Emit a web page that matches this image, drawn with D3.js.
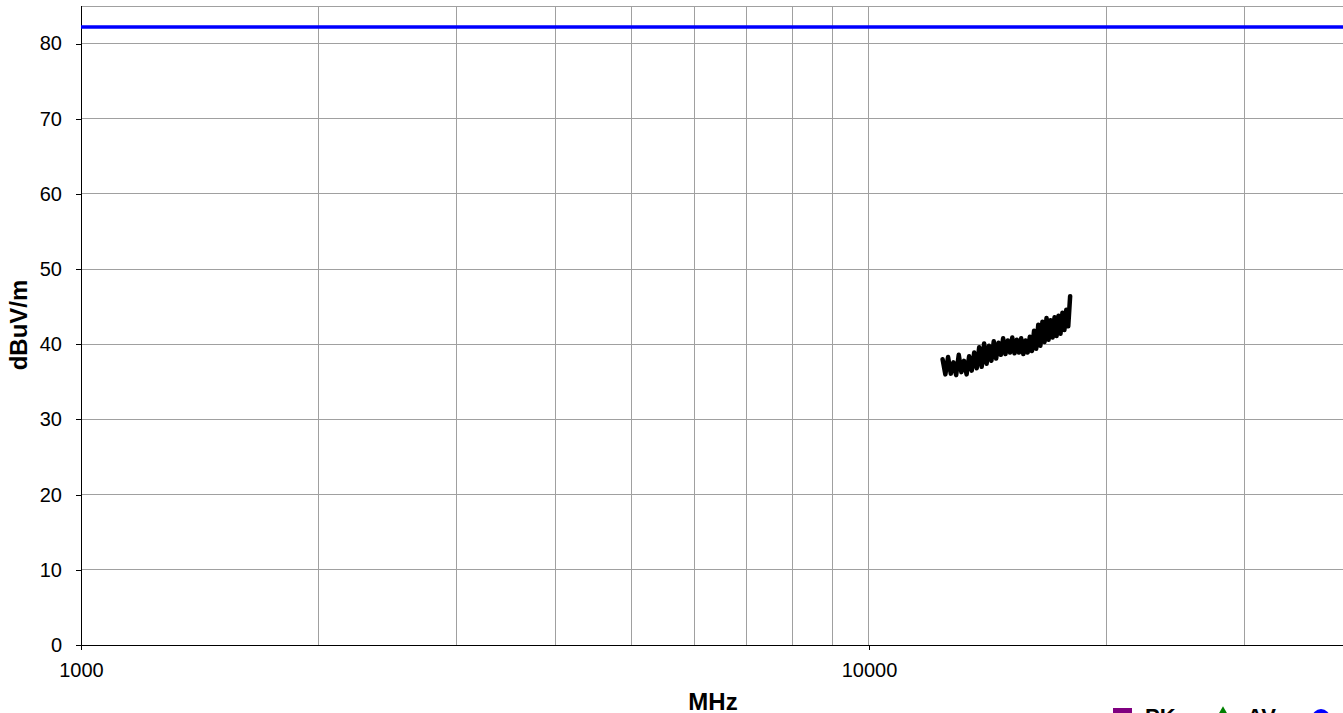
<!DOCTYPE html>
<html>
<head>
<meta charset="utf-8">
<script src="https://cdn.jsdelivr.net/npm/d3@7/dist/d3.min.js"></script>
<style>
  body { margin: 0; background: #fff; overflow: hidden; }
  svg { display: block; font-family: "Liberation Sans", Arial, sans-serif; }
</style>
</head>
<body>
<script>
// Chart data
var xTicks = [1000, 10000];
var xGrid = [2000, 3000, 4000, 5000, 6000, 7000, 8000, 9000, 20000, 30000, 40000];
var yTicks = [0, 10, 20, 30, 40, 50, 60, 70, 80];

// limit line (dBuV/m)
var limitLevel = 82.2;

// measured trace, frequency in MHz and level in dBuV/m
var traceFreq = [12400, 12500, 12600, 12700, 12800, 12900, 13000, 13100, 13200, 13300,
  13400, 13500, 13600, 13700, 13800, 13900, 14000, 14100, 14200, 14300,
  14400, 14500, 14600, 14700, 14800, 14900, 15000, 15100, 15200, 15300,
  15400, 15500, 15600, 15700, 15800, 15900, 16000, 16100, 16200, 16300,
  16400, 16500, 16600, 16700, 16800, 16900, 17000, 17100, 17200, 17300,
  17400, 17500, 17600, 17700, 17800, 17900, 18000];
var traceLevel = [38.0, 36.0, 38.3, 36.1, 37.6, 35.9, 38.6, 36.3, 37.8, 36.0,
  38.4, 36.5, 38.9, 36.8, 39.6, 37.0, 40.1, 37.4, 39.8, 37.8,
  40.4, 38.1, 40.2, 38.6, 40.8, 38.7, 40.5, 38.9, 40.9, 38.8,
  40.6, 38.9, 40.8, 38.7, 40.5, 38.9, 41.0, 39.1, 41.8, 39.4,
  42.6, 39.8, 43.0, 40.3, 43.5, 40.6, 43.2, 40.9, 43.6, 41.1,
  43.8, 41.4, 44.2, 41.9, 44.6, 42.4, 46.4];

var legendItems = ["PK", "AV", ""];
var legendColors = ["#800080", "#008000", "#0000ff"];

var W = 1343, H = 713;
var margin = { top: 6, left: 81, bottom: 68 };

var x = d3.scaleLog().domain([1000, 40000]).range([margin.left, 1343.4]);
var y = d3.scaleLinear().domain([0, 85]).range([H - margin.bottom, margin.top]);

var svg = d3.select("body").append("svg")
  .attr("width", W)
  .attr("height", H);

svg.append("defs").append("clipPath").attr("id", "plot")
  .append("rect")
  .attr("x", margin.left).attr("y", margin.top)
  .attr("width", W - margin.left).attr("height", y(0) - margin.top);

// Grid lines
svg.selectAll(".vgrid").data(xGrid.concat(xTicks)).enter().append("line")
  .attr("x1", function (d) { return x(d); })
  .attr("x2", function (d) { return x(d); })
  .attr("y1", margin.top).attr("y2", y(0))
  .attr("stroke", "#a0a0a0").attr("stroke-width", 1)
  .attr("shape-rendering", "crispEdges");

svg.selectAll(".hgrid").data(yTicks.concat([85])).enter().append("line")
  .attr("x1", margin.left).attr("x2", W)
  .attr("y1", function (d) { return y(d); })
  .attr("y2", function (d) { return y(d); })
  .attr("stroke", "#a0a0a0").attr("stroke-width", 1)
  .attr("shape-rendering", "crispEdges");

// Axes
var yAxis = d3.axisLeft(y).tickValues(yTicks).tickSize(5).tickPadding(14).tickFormat(d3.format("d"));
var xAxis = d3.axisBottom(x).tickValues(xTicks).tickSize(5).tickPadding(13).tickFormat(d3.format("d"));

var gy = svg.append("g").attr("transform", "translate(" + margin.left + ",0)").call(yAxis);
var gx = svg.append("g").attr("transform", "translate(0," + y(0) + ")").call(xAxis);

[gx, gy].forEach(function (g) {
  g.attr("font-family", "Liberation Sans, Arial, sans-serif").attr("font-size", 20);
  g.select(".domain").remove();
  g.selectAll("line").attr("stroke", "#000").attr("shape-rendering", "crispEdges");
  g.selectAll("text").attr("fill", "#000");
});

svg.append("line")
  .attr("x1", margin.left).attr("x2", margin.left)
  .attr("y1", margin.top).attr("y2", y(0))
  .attr("stroke", "#000").attr("shape-rendering", "crispEdges");
svg.append("line")
  .attr("x1", margin.left).attr("x2", W)
  .attr("y1", y(0)).attr("y2", y(0))
  .attr("stroke", "#000").attr("shape-rendering", "crispEdges");

// Limit line
svg.append("line")
  .attr("clip-path", "url(#plot)")
  .attr("x1", margin.left).attr("x2", W)
  .attr("y1", y(limitLevel)).attr("y2", y(limitLevel))
  .attr("stroke", "#0000ff").attr("stroke-width", 3.5);

// Measured trace
var line = d3.line()
  .x(function (d, i) { return x(traceFreq[i]); })
  .y(function (d) { return y(d); });

svg.append("path")
  .datum(traceLevel)
  .attr("clip-path", "url(#plot)")
  .attr("d", line)
  .attr("fill", "none")
  .attr("stroke", "#000")
  .attr("stroke-width", 4.5)
  .attr("stroke-linejoin", "round")
  .attr("stroke-linecap", "round");

// Axis titles
svg.append("text")
  .attr("x", 713).attr("y", 710)
  .attr("text-anchor", "middle")
  .style("font-size", "24px").style("font-weight", "bold")
  .text("MHz");

svg.append("text")
  .attr("transform", "translate(27,325) rotate(-90)")
  .attr("text-anchor", "middle")
  .style("font-size", "24px").style("font-weight", "bold")
  .text("dBuV/m");

// Legend (partly below the visible area, as in the source)
var legendX = [1113, 1214, 1312];
var legend = svg.selectAll(".legend").data(legendItems).enter().append("g")
  .attr("transform", function (d, i) { return "translate(" + legendX[i] + ",708)"; });

legend.each(function (d, i) {
  var g = d3.select(this);
  if (i === 0) {
    g.append("rect").attr("x", 0).attr("y", 0).attr("width", 19).attr("height", 19)
      .attr("fill", legendColors[i]);
  } else if (i === 1) {
    g.append("path").attr("d", d3.symbol().type(d3.symbolDiamond).size(160)())
      .attr("transform", "translate(9,10)")
      .attr("fill", legendColors[i]);
  } else {
    g.append("circle").attr("cx", 9).attr("cy", 10).attr("r", 9)
      .attr("fill", legendColors[i]);
  }
  g.append("text")
    .attr("x", i === 0 ? 32 : 33).attr("y", 16)
    .style("font-size", "22px").style("font-weight", "bold")
    .attr("fill", "#000")
    .text(d);
});
</script>
</body>
</html>
